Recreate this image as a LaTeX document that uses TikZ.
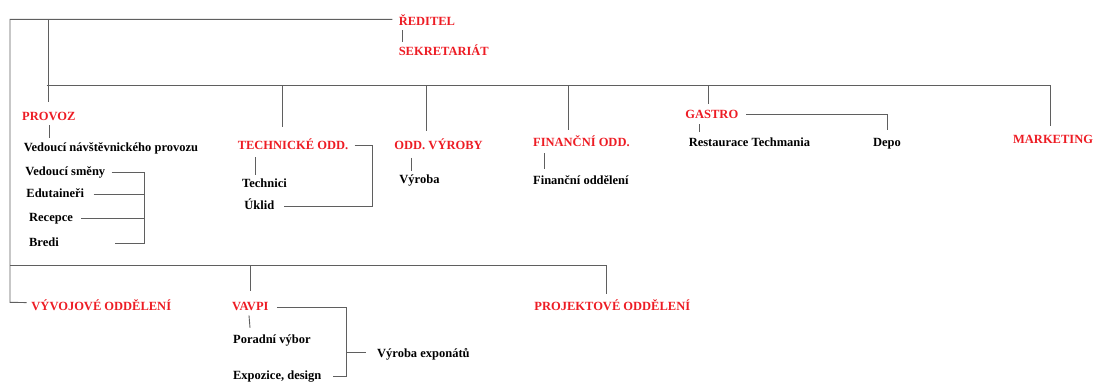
\documentclass[tikz,border=0pt]{standalone}
\usepackage{fontspec}
\setmainfont{Liberation Serif}
\usetikzlibrary{calc}
\definecolor{orgred}{RGB}{237,28,36}
\definecolor{orgline}{RGB}{95,95,95}
\begin{document}
\begin{tikzpicture}[x=1pt,y=-1pt,
    every node/.style={anchor=west, inner sep=0pt, text height=9pt, text depth=3pt,
      font=\fontsize{12.5}{14}\selectfont\bfseries},
    head/.style={text=orgred},
    sub/.style={text=black},
    every path/.style={draw=orgline, line width=0.9pt}]
  \useasboundingbox[draw=none] (0,0) rectangle (1094,383);
  % top
  \node[head] (reditel) at (398.3,22) {ŘEDITEL};
  \node[head] (sekr) at (398.3,52) {SEKRETARIÁT};
  % main departments
  \node[head] (provoz) at (21.7,117) {PROVOZ};
  \node[head] (tech) at (237.3,146.5) {TECHNICKÉ ODD.};
  \node[head] (vyroby) at (394,146) {ODD. VÝROBY};
  \node[head] (fin) at (532.7,143) {FINANČNÍ ODD.};
  \node[head] (gastro) at (685,115) {GASTRO};
  \node[head] (mkt) at (1012.7,140) {MARKETING};
  \node[head] (vyv) at (31,307) {VÝVOJOVÉ ODDĚLENÍ};
  \node[head] (vavpi) at (231.7,307) {VAVPI};
  \node[head] (proj) at (534,307) {PROJEKTOVÉ ODDĚLENÍ};
  % sections
  \node[sub] (vnp) at (23.3,148.5) {Vedoucí návštěvnického provozu};
  \node[sub] (vsm) at (25,172) {Vedoucí směny};
  \node[sub] (edu) at (26,194) {Edutaineři};
  \node[sub] (rec) at (28.7,218.3) {Recepce};
  \node[sub] (bredi) at (28.7,243.3) {Bredi};
  \node[sub] (technici) at (241.7,184) {Technici};
  \node[sub] (uklid) at (244,206) {Úklid};
  \node[sub] (vyroba) at (399,180) {Výroba};
  \node[sub] (finodd) at (532.7,181) {Finanční oddělení};
  \node[sub] (rest) at (688.3,143) {Restaurace Techmania};
  \node[sub] (depo) at (872.7,143) {Depo};
  \node[sub] (porad) at (232.7,340) {Poradní výbor};
  \node[sub] (expo) at (232.7,376) {Expozice, design};
  \node[sub] (vexp) at (376.7,354) {Výroba exponátů};
  % junctions
  \coordinate (bl) at (10,302.3);
  \coordinate (b1) at (48.3,19.3);
  \coordinate (m0) at (46.7,85.7);
  \coordinate (d1) at (282,85.7);
  \coordinate (d2) at (426.3,85.7);
  \coordinate (d3) at (568.3,85.7);
  \coordinate (d4) at (708.3,85.7);
  \coordinate (s0) at (10,265);
  \coordinate (d5) at (250,265);
  \coordinate (br1) at (144,243.3);
  \coordinate (br2) at (372.3,206);
  \coordinate (br3) at (346.7,376);
  \coordinate (br4) at (346.7,352.3);
  % lines
  \draw ([xshift=-6pt,yshift=2.7pt]reditel.west) -| (bl) -- ([xshift=-4.3pt,yshift=4.4pt]vyv.west);
  \draw ([xshift=4pt,yshift=-2pt]reditel.south west) -- ([xshift=4pt,yshift=3.3pt]sekr.north west);
  \draw (b1) -- ([xshift=26.6pt,yshift=8.3pt]provoz.north west);
  \draw (m0) -| ([xshift=37.3pt,yshift=7.3pt]mkt.north west);
  \draw (d1) -- ([xshift=44.7pt,yshift=13.2pt]tech.north west);
  \draw (d2) -- ([xshift=32.3pt,yshift=8.3pt]vyroby.north west);
  \draw (d3) -- ([xshift=35.6pt,yshift=7pt]fin.north west);
  \draw (d4) -- ([xshift=23.3pt,yshift=5pt]gastro.north west);
  % PROVOZ
  \draw ([xshift=27.6pt,yshift=-2pt]provoz.south west) -- ([xshift=26pt,yshift=4.5pt]vnp.north west);
  \draw ([xshift=6pt]vsm.east) -| (br1) -- ([xshift=55.3pt]bredi.east);
  \draw ([xshift=9pt]edu.east) -- (edu.east -| br1);
  \draw ([xshift=8pt]rec.east) -- (rec.east -| br1);
  % TECHNICKE, VYROBA, FINANCNI
  \draw ([xshift=6pt,yshift=0.8pt]tech.east) -| (br2) -- ([xshift=9.5pt]uklid.east);
  \draw ([xshift=18.4pt,yshift=-4.2pt]tech.south west) -- ([xshift=14pt,yshift=3pt]technici.north west);
  \draw ([xshift=17.7pt,yshift=-5.3pt]vyroby.south west) -- ([xshift=12.7pt,yshift=3pt]vyroba.north west);
  \draw ([xshift=11.3pt,yshift=-3.7pt]fin.south west) -- ([xshift=11.3pt,yshift=5.7pt]finodd.north west);
  % GASTRO
  \draw ([xshift=14.3pt,yshift=-3pt]gastro.south west) -- ([xshift=11pt,yshift=4.7pt]rest.north west);
  \draw ([xshift=7.7pt,yshift=0.7pt]gastro.east) -| ([yshift=6.3pt]depo.north);
  % lower part
  \draw (s0) -| ([xshift=72pt,yshift=6.4pt]proj.north west);
  \draw (d5) -- ([xshift=18.3pt,yshift=9.3pt]vavpi.north west);
  \draw ([xshift=17.3pt,yshift=-2pt]vavpi.south west) -- ([xshift=17.3pt,yshift=5.7pt]porad.north west);
  \draw ([xshift=7.8pt,yshift=-0.7pt]vavpi.east) -| (br3) -- ([xshift=11pt]expo.east);
  \draw (br4) -- ([xshift=-11pt,yshift=1.7pt]vexp.west);
\end{tikzpicture}
\end{document}
